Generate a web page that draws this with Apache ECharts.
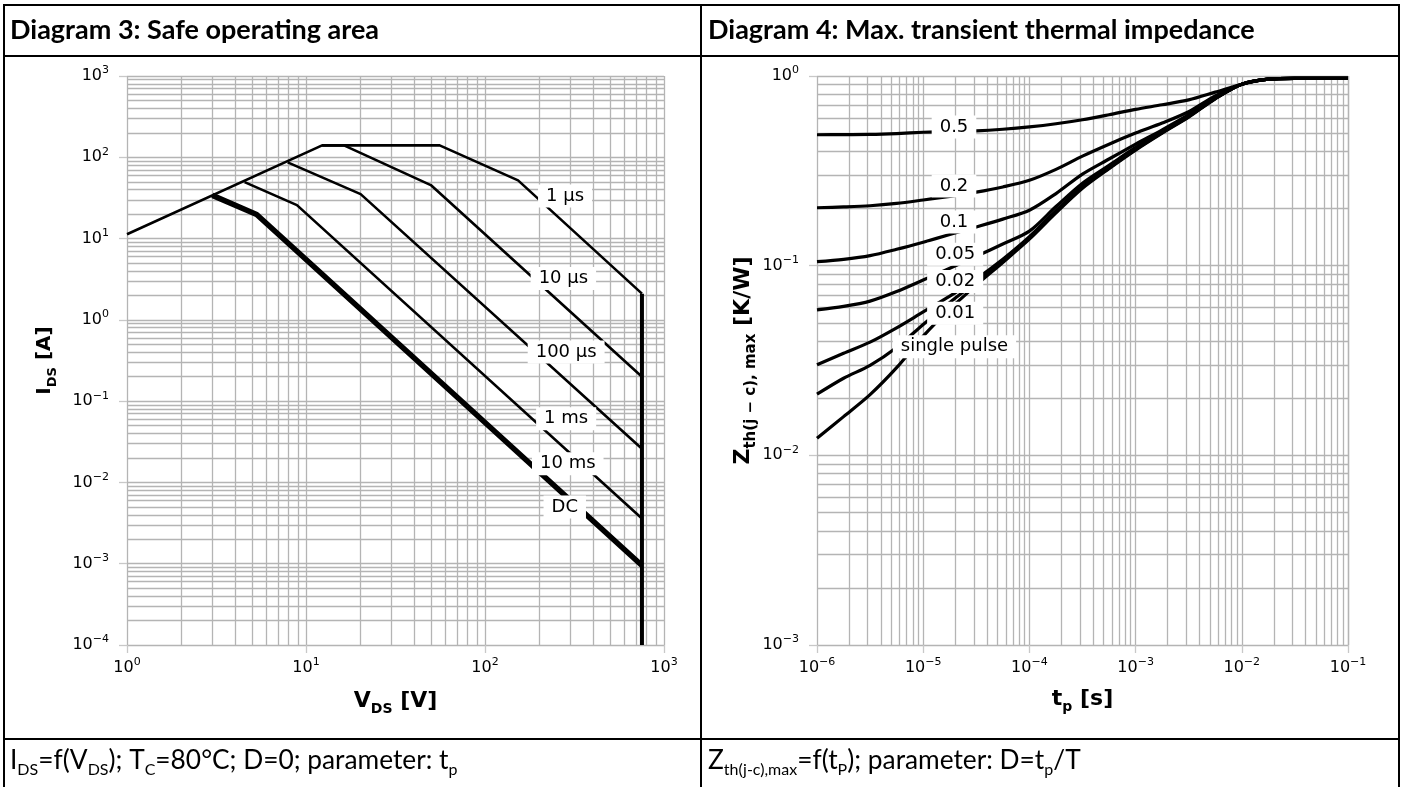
<!DOCTYPE html>
<html><head><meta charset="utf-8">
<script src="https://cdn.jsdelivr.net/npm/echarts@6/dist/echarts.min.js"></script>
<style>html,body{margin:0;padding:0;background:#fff}#c{width:1413px;height:787px}</style>
</head><body><div id="c"></div>
<script>
// ---------- Diagram 3: SOA data (V_DS [V], I_DS [A]) ----------
const soa1us  = [[1,11.3],[12.3,140],[55.8,140],[153,52],[753,2.1]];
const soa10us = [[12.3,140],[16.3,140],[49.8,45.5],[753,0.2]];
const soa100us= [[7.9,86.5],[20.2,35.2],[753,0.026]];
const soa1ms  = [[4.54,49.5],[8.9,25.8],[753,0.0036]];
const soa10ms = [[3.0,34],[5.3,19.8],[753,0.00095]];
const soaDC   = [[3.0,34],[5.3,19.8],[753,0.00095]];
const soaLimit= [[753,2.1],[753,0.0001]];
const soaLabels = [['1 µs',280,33.3],['10 µs',274,3.23],['100 µs',284,0.403],['1 ms',284,0.0608],['10 ms',290,0.017],['DC',279,0.00497]];
const soaXDecades = [1,10,100,1000];
const soaYDecades = [0.0001,0.001,0.01,0.1,1,10,100,1000];

// ---------- Diagram 4: Zth data (t_p [s], Z [K/W]) ----------
const zthTime = [1e-6,1.78e-6,3.16e-6,5.62e-6,1e-5,1.78e-5,3.16e-5,5.62e-5,1e-4,1.78e-4,3.16e-4,5.62e-4,
                 1e-3,1.78e-3,3.16e-3,5.62e-3,1e-2,1.78e-2,3.16e-2,5.62e-2,1e-1];
const zthD05  = [0.490,0.491,0.492,0.497,0.505,0.510,0.514,0.524,0.539,0.560,0.588,0.625,0.667,0.705,0.748,0.822,0.905,0.962,0.972,0.972,0.972];
const zthD02  = [0.202,0.204,0.207,0.213,0.222,0.232,0.244,0.260,0.282,0.322,0.378,0.437,0.500,0.565,0.648,0.785,0.905,0.962,0.972,0.972,0.972];
const zthD01  = [0.105,0.108,0.113,0.122,0.133,0.146,0.160,0.176,0.196,0.240,0.304,0.365,0.437,0.520,0.625,0.770,0.905,0.962,0.972,0.972,0.972];
const zthD005 = [0.0585,0.061,0.065,0.073,0.084,0.097,0.112,0.130,0.152,0.205,0.272,0.338,0.420,0.510,0.618,0.765,0.905,0.962,0.972,0.972,0.972];
const zthD002 = [0.030,0.0345,0.0395,0.047,0.057,0.069,0.085,0.108,0.142,0.195,0.262,0.330,0.413,0.505,0.613,0.762,0.905,0.962,0.972,0.972,0.972];
const zthD001 = [0.021,0.0255,0.0298,0.037,0.049,0.064,0.082,0.106,0.140,0.192,0.259,0.327,0.410,0.503,0.610,0.760,0.905,0.962,0.972,0.972,0.972];
const zthSP   = [0.0123,0.016,0.0209,0.029,0.0425,0.059,0.079,0.104,0.138,0.190,0.256,0.325,0.407,0.500,0.607,0.758,0.905,0.962,0.972,0.972,0.972];
const zthLabels = [['0.5',1.95e-5,0.539],['0.2',1.95e-5,0.263],['0.1',1.95e-5,0.170],['0.05',2.0e-5,0.115],['0.02',2.0e-5,0.0826],['0.01',2.0e-5,0.0562],['single pulse',1.97e-5,0.0374]];
const zthXDecades = [1e-6,1e-5,1e-4,1e-3,1e-2,1e-1];
const zthYDecades = [1e-3,1e-2,1e-1,1];
const minorMult = [2,3,4,5,6,7,8,9];

// ---------- texts ----------
const title3 = 'Diagram 3: Safe operating area';
const title4 = 'Diagram 4: Max. transient thermal impedance';
const foot3 = 'I{sub|DS}=f(V{sub|DS}); T{sub|C}=80°C; D=0; parameter: t{sub|p}';
const foot4 = 'Z{sub|th(j-c),max}=f(t{sub|P}); parameter: D=t{sub|p}/T';

const GRIDC = '#b4b4b4';
const TF = 'DejaVu Sans';

function pairs(ts, vs){ return ts.map((t,i)=>[t, vs[i]]); }
function minors(decs){ const r=[]; decs.slice(0,-1).forEach(d=>minorMult.forEach(m=>r.push(d*m))); return r; }
function expLabel(v){ const e=Math.round(Math.log10(v)); return '10{sup|'+(e<0?'−'+(-e):e)+'}'; }

const tickLabel = {fontFamily:TF, fontSize:16, color:'#000', lineHeight:22, formatter: expLabel,
  rich:{sup:{fontFamily:TF, fontSize:11, lineHeight:11, verticalAlign:'top', color:'#000'}}};
function nameStyle(fs, sfs){
  return {fontFamily:TF, fontSize:fs, fontWeight:'bold', color:'#000', lineHeight:fs+8,
    rich:{sub:{fontFamily:TF, fontSize:sfs, fontWeight:'bold', lineHeight:sfs+2, verticalAlign:'bottom', color:'#000'}}};
}

function axis(gi, min, max, name, gap, isY, fs, sfs){
  return {type:'log', logBase:10, gridIndex:gi, min:min, max:max, interval:1,
    name:name, nameLocation:'middle', nameGap:gap, nameRotate: isY?90:0, nameTextStyle:nameStyle(fs, sfs),
    axisLine:{show:false}, axisTick:{show:true, length:8, lineStyle:{color:'#c8c8c8', width:1.3}},
    axisLabel:Object.assign({margin: isY?18:12}, tickLabel),
    splitLine:{show:true, lineStyle:{color:GRIDC, width:1.3}}, minorTick:{show:false}};
}
// minor grid lines as segments placed through the axes' own scales
function gridSeries(gi, xs, ys, xr, yr){
  const segs = xs.map(v=>({coords:[[v,yr[0]],[v,yr[1]]]})).concat(ys.map(v=>({coords:[[xr[0],v],[xr[1],v]]})));
  return {type:'lines', coordinateSystem:'cartesian2d', xAxisIndex:gi, yAxisIndex:gi, silent:true, z:1,
    polyline:false, data:segs, lineStyle:{color:GRIDC, width:1.3, opacity:1, type:'solid'}, effect:{show:false}};
}
function ln(gi, data, w, sm){
  return {type:'line', xAxisIndex:gi, yAxisIndex:gi, data:data, showSymbol:false, symbol:'none', z:3,
    smooth: sm ? 0.3 : false, lineStyle:{color:'#000', width:w, cap:'butt', join:'round'}};
}
function labels(gi, arr){
  return {type:'scatter', xAxisIndex:gi, yAxisIndex:gi, z:10, symbol:'rect', symbolSize:0.5,
    itemStyle:{color:'#fff', opacity:1}, silent:true,
    data: arr.map(l=>({name:l[0], value:[l[1], l[2]]})),
    label:{show:true, position:'inside', formatter:p=>p.name, fontFamily:TF, fontSize:18, color:'#000', opacity:1,
      textBorderWidth:0, backgroundColor:'#fff', padding:[3,8,2,8]}};
}

const chart = echarts.init(document.getElementById('c'), null, {renderer:'canvas'});
chart.setOption({
  animation:false, backgroundColor:'#fff',
  grid:[{left:127, top:76, width:537, height:569}, {left:817, top:76, width:531, height:569}],
  xAxis:[axis(0,1,1000,'V{sub|DS} [V]',41,false,22,14), axis(1,1e-6,1e-1,'t{sub|p} [s]',39,false,22,14)],
  yAxis:[axis(0,1e-4,1000,'I{sub|DS} [A]',68,true,20,13), axis(1,1e-3,1,'Z{sub|th(j − c), max} [K/W]',58,true,22,15)],
  series:[
    gridSeries(0, minors(soaXDecades), minors(soaYDecades), [1,1000], [1e-4,1000]),
    gridSeries(1, minors(zthXDecades), minors(zthYDecades), [1e-6,1e-1], [1e-3,1]),
    ln(0,soa1us,2.6), ln(0,soa10us,2.6), ln(0,soa100us,2.6), ln(0,soa1ms,2.6), ln(0,soa10ms,2.6), ln(0,soaDC,5.5),
    ln(0,soaLimit,4),
    ln(1,pairs(zthTime,zthD05),3.2,true), ln(1,pairs(zthTime,zthD02),3.2,true), ln(1,pairs(zthTime,zthD01),3.2,true),
    ln(1,pairs(zthTime,zthD005),3.2,true), ln(1,pairs(zthTime,zthD002),3.2,true), ln(1,pairs(zthTime,zthD001),3.2,true),
    ln(1,pairs(zthTime,zthSP),3.2,true),
    labels(0,soaLabels), labels(1,zthLabels)
  ],
  graphic:[
    {type:'rect', shape:{x:4, y:5, width:1395, height:790}, style:{fill:'none', stroke:'#000', lineWidth:2}, silent:true},
    {type:'line', shape:{x1:4, y1:56, x2:1399, y2:56}, style:{stroke:'#000', lineWidth:2}},
    {type:'line', shape:{x1:4, y1:739, x2:1399, y2:739}, style:{stroke:'#000', lineWidth:2}},
    {type:'line', shape:{x1:701, y1:5, x2:701, y2:795}, style:{stroke:'#000', lineWidth:2}},
    {type:'text', x:10, y:30.5, style:{text:title3, fontFamily:'Lato', fontWeight:'bold', fontSize:27, fill:'#000', verticalAlign:'middle'}},
    {type:'text', x:708, y:30.5, style:{text:title4, fontFamily:'Lato', fontWeight:'bold', fontSize:27, fill:'#000', verticalAlign:'middle'}},
    {type:'text', x:10, y:761, style:{text:foot3, fontFamily:'Lato', fontSize:26.3, fill:'#000', verticalAlign:'middle', lineHeight:33,
      rich:{sub:{fontFamily:'Lato', fontSize:16, lineHeight:16, verticalAlign:'bottom', fill:'#000'}}}},
    {type:'text', x:708, y:761, style:{text:foot4, fontFamily:'Lato', fontSize:26.3, fill:'#000', verticalAlign:'middle', lineHeight:33,
      rich:{sub:{fontFamily:'Lato', fontSize:16, lineHeight:16, verticalAlign:'bottom', fill:'#000'}}}}
  ]
});
</script></body></html>
